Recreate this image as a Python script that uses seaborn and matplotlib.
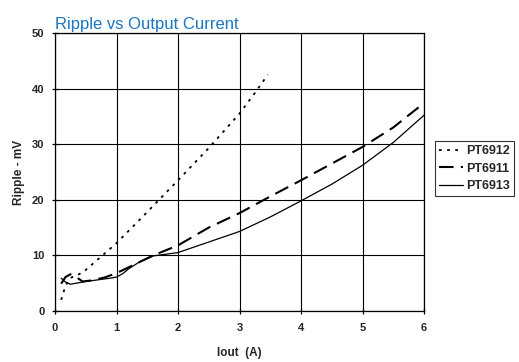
import matplotlib
matplotlib.use("Agg")
import matplotlib.pyplot as plt
import seaborn as sns
import pandas as pd

sns.set_style("white")
plt.rcParams['font.family'] = ['Liberation Sans', 'DejaVu Sans']

x_6912 = [0.1, 0.17, 0.24, 0.35, 0.46, 0.7, 1.0, 1.5, 2.0, 2.5, 3.0, 3.25, 3.46]
y_6912 = [2.0, 4.5, 5.9, 6.4, 7.0, 9.3, 12.2, 17.8, 23.5, 29.3, 35.5, 39.2, 42.5]

x_6911 = [0.1, 0.17, 0.25, 0.33, 0.45, 0.6, 0.8, 1.0, 1.3, 1.6, 2.0, 2.5, 3.0, 3.5, 4.0, 4.5, 5.0, 5.5, 6.0]
y_6911 = [4.9, 6.1, 6.6, 6.2, 5.3, 5.5, 6.0, 6.8, 8.4, 10.0, 11.8, 15.0, 17.6, 20.6, 23.5, 26.5, 29.5, 33.0, 37.4]

x_6913 = [0.1, 0.17, 0.25, 0.35, 0.5, 0.7, 0.9, 1.0, 1.1, 1.2, 1.4, 1.6, 1.8, 2.0, 2.5, 3.0, 3.5, 4.0, 4.5, 5.0, 5.5, 6.0]
y_6913 = [5.9, 5.2, 4.8, 5.0, 5.3, 5.6, 5.9, 6.1, 6.7, 7.6, 9.0, 9.9, 10.2, 10.5, 12.4, 14.3, 16.9, 19.8, 22.8, 26.2, 30.3, 35.2]

series = [("PT6912", x_6912, y_6912, (0, (1.5, 3)), 1.3),
          ("PT6911", x_6911, y_6911, (0, (7, 3.5)), 1.5),
          ("PT6913", x_6913, y_6913, "-", 0.9)]

fig = plt.figure(figsize=(5.19, 3.62), dpi=100)
ax = fig.add_axes([0.106, 0.141, 0.711, 0.768])

for name, xs, ys, ls, lw in series:
    df = pd.DataFrame({"x": xs, "y": ys})
    sns.lineplot(data=df, x="x", y="y", ax=ax, color="black", linestyle=ls,
                 linewidth=lw, label=name, sort=False)

ax.set_xlim(0, 6)
ax.set_ylim(0, 50)
ax.set_xticks(range(0, 7))
ax.set_yticks(range(0, 51, 10))
ax.grid(True, color="black", linewidth=0.8)
for s in ax.spines.values():
    s.set_color("black")
    s.set_linewidth(0.9)
ax.tick_params(axis="both", direction="inout", length=5, width=0.9, color="black",
               labelsize=8, bottom=True, left=True)
ax.tick_params(axis="x", pad=6)
ax.tick_params(axis="y", pad=5)
for lbl in ax.get_xticklabels() + ax.get_yticklabels():
    lbl.set_fontweight("bold")
ax.set_xlabel("Iout  (A)", fontsize=8.5, fontweight="bold", labelpad=10)
ax.set_ylabel("Ripple - mV", fontsize=8.5, fontweight="bold", labelpad=5)
ax.set_title("Ripple vs Output Current", loc="left", color="#1a75c2",
             fontsize=12, pad=3, x=0.0)

leg = ax.legend(loc="upper left", bbox_to_anchor=(1.03, 0.61), frameon=True,
                fancybox=False, edgecolor="black",
                prop={"weight": "bold", "size": 9}, handlelength=1.9,
                handletextpad=0.3, borderpad=0.3, labelspacing=0.45, borderaxespad=0)
leg.get_frame().set_linewidth(0.8)

fig.savefig("out.png", dpi=100)
